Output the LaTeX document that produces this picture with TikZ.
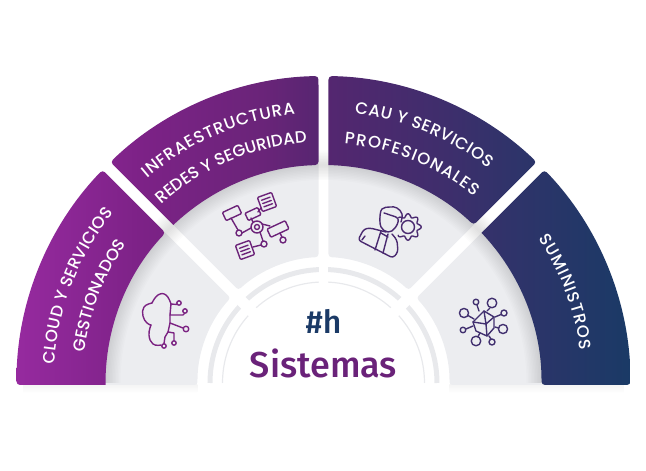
\documentclass[tikz,border=0pt]{standalone}
\usepackage{fontspec}
\usetikzlibrary{decorations.text}
\setmainfont{Poppins}
\newfontfamily\labf{Poppins Medium}
\newfontfamily\titf{Fira Sans Medium}
\definecolor{grayseg}{HTML}{ECEDF0}
\definecolor{ringgray}{HTML}{E8E9EC}
\definecolor{titlepurple}{HTML}{6A2279}
\definecolor{navy}{HTML}{1B3A66}
\definecolor{icA}{HTML}{7B2382}
\definecolor{icB}{HTML}{6C2379}
\definecolor{icC}{HTML}{4A2A70}
\definecolor{icD}{HTML}{41306F}
\definecolor{g0}{HTML}{962A9F}
\definecolor{g1}{HTML}{7D2287}
\definecolor{g2}{HTML}{6A2479}
\definecolor{g3}{HTML}{552670}
\definecolor{g4}{HTML}{3E2E6C}
\definecolor{g5}{HTML}{30336A}
\definecolor{g6}{HTML}{1A3A66}
\pgfdeclarehorizontalshading{bandshade}{100bp}{color(0bp)=(g0); color(25bp)=(g0); color(35bp)=(g1); color(45bp)=(g2); color(50bp)=(g3); color(60bp)=(g4); color(65bp)=(g5); color(75bp)=(g6); color(100bp)=(g6)}
% band sector: a1 > a2, gaps g1 at a1 and g2 at a2
\newcommand{\bandpath}[4]{%
  [rounded corners=3.5] ({#1-asin(#3/218)}:218) -- ({#1-asin(#3/307)}:307) arc[start angle={#1-asin(#3/307)},end angle={#2+asin(#4/307)},radius=307] -- ({#2+asin(#4/218)}:218) [sharp corners] arc[start angle={#2+asin(#4/218)},end angle={#1-asin(#3/218)},radius=218] -- cycle}
\newcommand{\graypath}[4]{%
  ({#1-asin(#3/222)}:222) arc[start angle={#1-asin(#3/222)},end angle={#2+asin(#4/222)},radius=222] [rounded corners=3] -- ({#2+asin(#4/126)}:126) arc[start angle={#2+asin(#4/126)},end angle={#1-asin(#3/126)},radius=126] -- ({#1-asin(#3/222)}:222) [sharp corners] -- cycle}
% radius, start angle, end angle, size, text
\newcommand{\arclabel}[5]{%
  \path[decorate,decoration={text along path,text align={fit to path},text={|\labf\fontsize{#4}{#4}\selectfont\color{white}|#5}}]
    (#2:#1) arc[start angle=#2,end angle=#3,radius=#1];}
\newcommand{\rrect}[6]{\draw[#6,shift={(#1,#2)},rotate=#5,rounded corners=1] ({-#3/2},{-#4/2}) rectangle ({#3/2},{#4/2});}
\newcommand{\noterect}[5]{\begin{scope}[shift={(#1,#2)},rotate=#5]
  \draw[#4,rounded corners=1] ({-#3/2},{-#3/2}) rectangle ({#3/2},{#3/2});
  \draw[#4] ({-#3/2+3},{-#3/2+4}) -- ({#3/2-3},{-#3/2+4}) ({-#3/2+3},0) -- ({#3/2-3},0) ({-#3/2+3},{#3/2-4}) -- ({#3/2-3},{#3/2-4});
  \end{scope}}
\tikzset{
  iconA/.style={draw=icA,line width=1.4pt,line cap=round,line join=round},
  iconB/.style={draw=icB,line width=1.4pt,line cap=round,line join=round},
  iconC/.style={draw=icC,line width=1.4pt,line cap=round,line join=round},
  iconD/.style={draw=icD,line width=1.4pt,line cap=round,line join=round}
}
\begin{document}
\begin{tikzpicture}[x=1pt,y=1pt]
\useasboundingbox (-323.5,-88) rectangle (322.5,383);
% faint shadow below
\shade[top color=black!4,bottom color=white] (-300,-2) rectangle (-126,-10);
\shade[top color=black!4,bottom color=white] (126,-2) rectangle (300,-10);
% gray segments
\fill[grayseg] \graypath{180}{135}{-2}{5.5};
\fill[grayseg] \graypath{135}{90}{5.5}{5};
\fill[grayseg] \graypath{90}{45}{5}{5.5};
\fill[grayseg] \graypath{45}{0}{5.5}{-2};
% rings
\draw[ringgray,line width=5pt] (0:113.5) arc[start angle=0,end angle=180,radius=113.5];
\draw[ringgray,line width=1.2pt] (0:101) arc[start angle=0,end angle=180,radius=101];
\draw[white,line width=9pt] (0,90) -- (0,120);
\draw[white,line width=11pt] (45:90) -- (45:120);
\draw[white,line width=11pt] (135:90) -- (135:120);
% soft shadow of the band
\begin{scope}
\clip (-310,-2) rectangle (310,310);
\foreach \w in {3,6,...,30}{
  \draw[black,opacity=.013,line width=\w pt] (0:218) arc[start angle=0,end angle=180,radius=218];
}
\end{scope}
% coloured band
\begin{scope}
\clip \bandpath{180}{135}{-2}{5.5} \bandpath{135}{90}{5.5}{5} \bandpath{90}{45}{5}{5.5} \bandpath{45}{0}{5.5}{-2};
\shade[shading=bandshade] (-307,-5) rectangle (307,310);
\end{scope}
% labels
\arclabel{270}{176}{141}{16.6}{CLOUD Y SERVICIOS}
\arclabel{241}{172.7}{144.8}{16.6}{GESTIONADOS}
\arclabel{270}{130.7}{96}{16.6}{INFRAESTRUCTURA}
\arclabel{241}{132.3}{94}{16.6}{REDES Y SEGURIDAD}
\arclabel{271}{83.4}{52.5}{16.6}{CAU Y SERVICIOS}
\arclabel{240}{85}{51}{16.6}{PROFESIONALES}
\arclabel{259}{34}{7.3}{16.6}{SUMINISTROS}
% centre
\node (hash) at (0,62) {\titf\fontsize{32}{32}\selectfont\color{navy}\#h};
\node[text=titlepurple] (title) at (0,20) {\titf\fontsize{36}{36}\selectfont Sistemas};
% icons, in the reference's pixel coordinates
\begin{scope}[y=-1pt,shift={(-323.5pt,383pt)}]
 % cloud
 \draw[iconA] plot[smooth,tension=.8] coordinates {(171,304)(166,295)(158,295)(152,303)};
 \draw[iconA] plot[smooth,tension=.8] coordinates {(152,303)(144,307)(143,316)(147,323)(151,325)};
 \draw[iconA] plot[smooth,tension=.8] coordinates {(151,325)(149,335)(153,344)(161,345)};
 \draw[iconA] (171,304) -- (177,304.5);
 \draw[iconA] (171,304) -- (170,315) -- (183,315) -- (184.5,313.5);
 \draw[iconA] (170,315) -- (170,323) -- (183,328);
 \draw[iconA] (170,323) -- (168,332) -- (174,333) -- (174,340);
 \draw[iconA] (168,332) -- (165,337) -- (164,343.5);
 \draw[iconA] (179,303) circle[radius=2.2] (185,311) circle[radius=2.2] (186,329) circle[radius=2.8] (174,343) circle[radius=2.2] (164,346) circle[radius=2.2];
 % network plan
 \rrect{232}{213}{17}{9}{25}{iconB}
 \rrect{253}{214}{14}{8}{25}{iconB}
 \rrect{278}{229}{20}{9}{25}{iconB}
 \noterect{267}{202}{15}{iconB}{20}
 \noterect{245}{250}{15}{iconB}{20}
 \draw[iconB] (257,227) circle[radius=6] (257,227) circle[radius=2.5];
 \draw[iconB] (239,233) circle[radius=3] (283,240) circle[radius=3] (264,244) circle[radius=3];
 \draw[iconB] (231,218) -- (238,230) (242,233) -- (251,228) (260,232) -- (263,241) (261,245) -- (253,247);
 \draw[iconB] (253,222) -- (251,218) (258,212) -- (261,208) (262,224) -- (270,226) (280,233) -- (282,237);
 % person and gear
 \draw[iconC] plot[domain=-135:140,samples=100,smooth] ({408+(11.5+1.7*cos(8*\x))*cos(\x)},{227+(11.5+1.7*cos(8*\x))*sin(\x)});
 \draw[iconC] (408,227) circle[radius=6.5];
 \draw[iconC] plot[smooth,tension=.7] coordinates {(380,217)(382,209)(390,207)(397,208)(402,214)(401,222)};
 \draw[iconC] plot[smooth,tension=.7] coordinates {(380,217)(381,227)(388,232)(395,228)(398,219)(390,215)(384,213)};
 \draw[iconC,rounded corners=3] (386,232) -- (370,228) -- (364,229) -- (358,240) -- (393,258) -- (398,252) -- (397,240) -- (392,234);
 \draw[iconC] (381,231) -- (375,250) (388,234) -- (383,253) (381,233) -- (388,237) (365,236) -- (362,240);
 % cube and nodes
 \draw[iconD] (473,322) -- (484,311) -- (494,317) -- (494,328) -- (487,336) -- (476,331) -- cycle;
 \draw[iconD] (473,322) -- (486,324) -- (494,317) (486,324) -- (487,336) (484,311) -- (486,324);
 \draw[iconD] (476,302) circle[radius=2.8] (492,303) circle[radius=4.8] (504,313) circle[radius=3] (503,329) circle[radius=4.6] (492,342) circle[radius=3] (476,341) circle[radius=4.8] (463,330) circle[radius=2.8] (464,313) circle[radius=4.6];
 \draw[iconD] (477,305) -- (479,311) (490,308) -- (487,311) (501,314.5) -- (495,317) (498.5,328) -- (495,327) (491,339) -- (489,336) (478,336.5) -- (480,333) (466,329) -- (473,326) (468,315.5) -- (474,319);
\end{scope}
\end{tikzpicture}
\end{document}
